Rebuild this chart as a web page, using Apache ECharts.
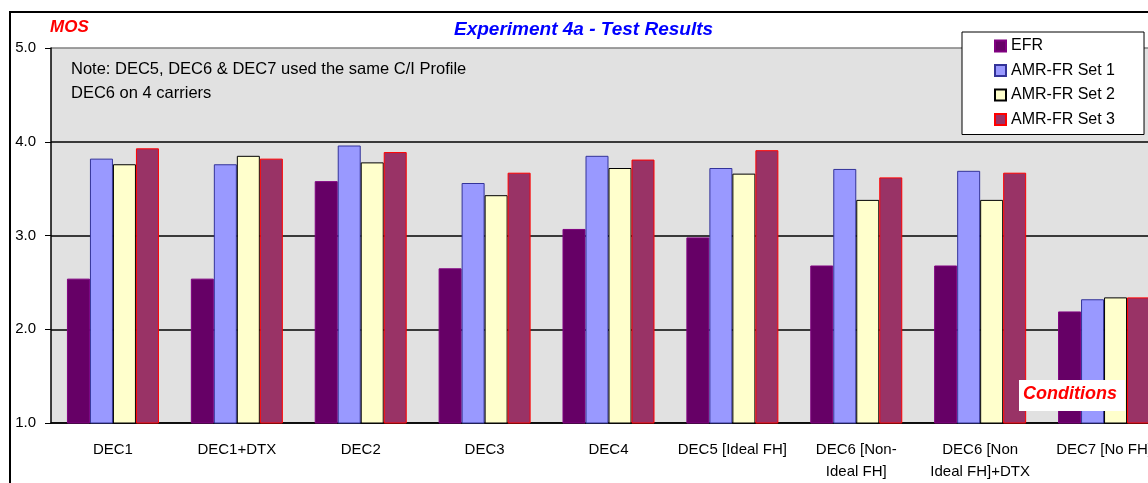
<!DOCTYPE html>
<html>
<head>
<meta charset="utf-8">
<script src="https://cdn.jsdelivr.net/npm/echarts@6/dist/echarts.min.js"></script>
<style>
  html, body { margin: 0; padding: 0; background: #fff; overflow: hidden; }
  #main { width: 1166px; height: 483px; }
</style>
</head>
<body>
<div id="main"></div>
<script>
var categories = ['DEC1', 'DEC1+DTX', 'DEC2', 'DEC3', 'DEC4', 'DEC5 [Ideal FH]',
  'DEC6 [Non-\nIdeal FH]', 'DEC6 [Non\nIdeal FH]+DTX', 'DEC7 [No FH]'];
var efr     = [2.54, 2.54, 3.58, 2.65, 3.07, 2.98, 2.68, 2.68, 2.19];
var amrSet1 = [3.82, 3.76, 3.96, 3.56, 3.85, 3.72, 3.71, 3.69, 2.32];
var amrSet2 = [3.76, 3.85, 3.78, 3.43, 3.72, 3.66, 3.38, 3.38, 2.34];
var amrSet3 = [3.93, 3.82, 3.89, 3.67, 3.81, 3.91, 3.62, 3.67, 2.34];
var yTicks = ['1.0', '2.0', '3.0', '4.0', '5.0'];

var myChart = echarts.init(document.getElementById('main'));

function bar(name, data, fill, edge) {
  return {
    name: name,
    type: 'bar',
    data: data,
    barWidth: 23,
    barGap: '0%',
    itemStyle: { color: fill, borderColor: edge, borderWidth: 1 }
  };
}

var font = 'Liberation Sans, Arial, sans-serif';

// plot runs a bit past the right edge of the window, like the source
var option = {
  backgroundColor: '#fff',
  animation: false,
  textStyle: { fontFamily: font },
  grid: {
    left: 51, right: 0, top: 48, bottom: 60,
    show: true, backgroundColor: '#e1e1e1', borderWidth: 0
  },
  legend: {
    orient: 'vertical',
    left: 962, top: 32,
    width: 182,
    padding: [6, 29, 7, 32],
    backgroundColor: '#fff',
    borderColor: '#000',
    borderWidth: 1,
    icon: 'rect',
    itemWidth: 11, itemHeight: 11,
    itemGap: 8.5,
    textStyle: { fontSize: 16, color: '#000', fontFamily: font },
    data: ['EFR', 'AMR-FR Set 1', 'AMR-FR Set 2', 'AMR-FR Set 3']
  },
  xAxis: {
    type: 'category',
    data: categories,
    axisLine: { lineStyle: { color: '#000', width: 1.5 } },
    axisTick: { lineStyle: { color: '#000' }, length: 5 },
    axisLabel: { color: '#000', fontSize: 15, margin: 16, lineHeight: 22, interval: 0 }
  },
  yAxis: {
    type: 'value',
    min: 1, max: 5, interval: 1,
    axisLine: { show: true, lineStyle: { color: '#000', width: 1.5 } },
    axisTick: { show: true, length: 6, lineStyle: { color: '#000' } },
    axisLabel: {
      color: '#000', fontSize: 15, margin: 15,
      formatter: function (v) { return yTicks[Math.round(v) - 1]; }
    },
    splitLine: { lineStyle: { color: ['#000', '#000', '#000', '#000', '#808080'], width: 1.5 } }
  },
  graphic: [
    { type: 'rect', z: 0, silent: true,
      shape: { x: 10, y: 12, width: 1300, height: 600 },
      style: { fill: 'none', stroke: '#000', lineWidth: 2 } },
    { type: 'text', left: 50, top: 19,
      style: { text: 'MOS', fill: '#ff0000', font: 'italic bold 17px ' + font } },
    { type: 'text', left: 454, top: 20,
      style: { text: 'Experiment 4a - Test Results', fill: '#0000ff', font: 'italic bold 19px ' + font } },
    { type: 'text', left: 71, top: 57, z: 10,
      style: { text: 'Note: DEC5, DEC6 & DEC7 used the same C/I Profile\nDEC6 on 4 carriers',
        fill: '#000', font: '16.5px ' + font, lineHeight: 24 } },
    { type: 'rect', z: 10,
      shape: { x: 1019, y: 380, width: 106, height: 31 },
      style: { fill: '#fff' } },
    { type: 'text', left: 1023, top: 385, z: 11,
      style: { text: 'Conditions', fill: '#ff0000', font: 'italic bold 18px ' + font } }
  ],
  series: [
    bar('EFR', efr, '#660066', '#800080'),
    bar('AMR-FR Set 1', amrSet1, '#9999ff', '#333399'),
    bar('AMR-FR Set 2', amrSet2, '#ffffcc', '#000000'),
    bar('AMR-FR Set 3', amrSet3, '#993366', '#ff0000')
  ]
};
myChart.setOption(option);
</script>
</body>
</html>
